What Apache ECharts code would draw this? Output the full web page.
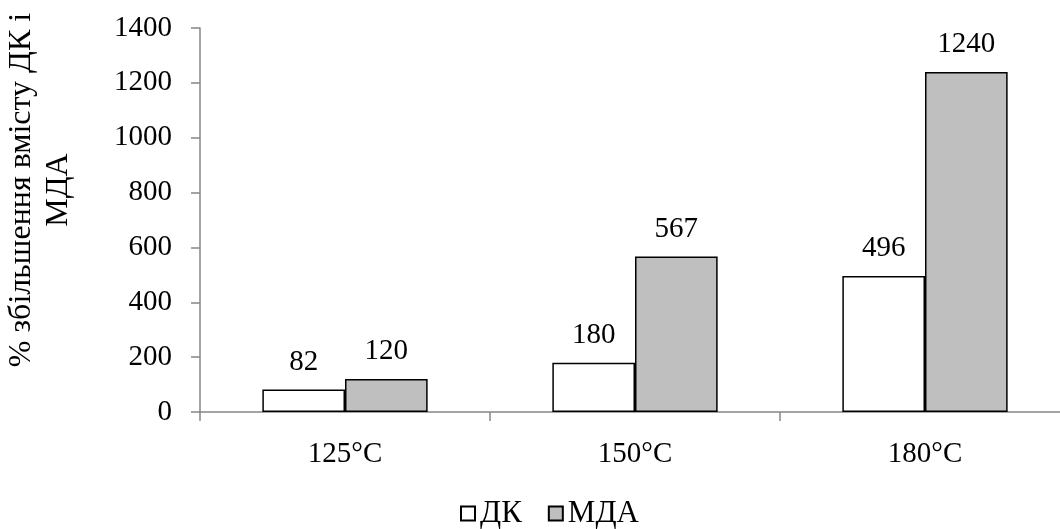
<!DOCTYPE html>
<html>
<head>
<meta charset="utf-8">
<script src="https://cdn.jsdelivr.net/npm/echarts@6/dist/echarts.min.js"></script>
<style>html,body{margin:0;padding:0;background:#fff}#c{width:1060px;height:529px}</style>
</head>
<body>
<div id="c"></div>
<script>
const categories = ['125°C', '150°C', '180°C'];
const dkValues = [82, 180, 496];
const mdaValues = [120, 567, 1240];
const seriesNames = ['ДК', 'МДА'];
const yAxisTitle = '% збільшення вмісту ДК і\nМДА';

const font = 'Liberation Serif, Times New Roman, serif';
const fs = 29;
const chart = echarts.init(document.getElementById('c'));
const labelStyle = { show: true, position: 'top', distance: 13, color: '#000', fontFamily: font, fontSize: fs };
chart.setOption({
  animation: false,
  grid: { left: 200, right: -10, top: 28, bottom: 117, outerBoundsMode: 'none', containLabel: false },
  legend: {
    top: 498, left: 460, itemWidth: 14, itemHeight: 14, itemGap: 26, padding: 0,
    icon: 'rect',
    textStyle: { fontFamily: font, fontSize: 31, color: '#000' },
    data: seriesNames
  },
  graphic: [{
    type: 'text', x: 40, y: 190, rotation: Math.PI / 2,
    style: { text: yAxisTitle, fontFamily: font, fontSize: 32, fill: '#000', lineHeight: 37,
      align: 'center', verticalAlign: 'middle' }
  }],
  xAxis: {
    type: 'category', data: categories,
    axisLine: { lineStyle: { color: '#868686', width: 1.5 } },
    axisTick: { show: true, length: 9, lineStyle: { color: '#868686', width: 1.5 } },
    axisLabel: { margin: 28, color: '#000', fontFamily: font, fontSize: fs }
  },
  yAxis: {
    type: 'value', min: 0, max: 1400, interval: 200,
    axisLine: { show: true, lineStyle: { color: '#868686', width: 1.5 } },
    axisTick: { show: true, length: 9, lineStyle: { color: '#868686', width: 1.5 } },
    splitLine: { show: false },
    axisLabel: { margin: 28, color: '#000', fontFamily: font, fontSize: fs, formatter: v => String(v) }
  },
  series: [
    { name: seriesNames[0], type: 'bar', data: dkValues, barGap: '0%', barCategoryGap: '43%',
      itemStyle: { color: '#ffffff', borderColor: '#000', borderWidth: 1.5 }, label: labelStyle },
    { name: seriesNames[1], type: 'bar', data: mdaValues, barGap: '0%', barCategoryGap: '43%',
      itemStyle: { color: '#bfbfbf', borderColor: '#000', borderWidth: 1.5 }, label: labelStyle }
  ]
});
</script>
</body>
</html>
